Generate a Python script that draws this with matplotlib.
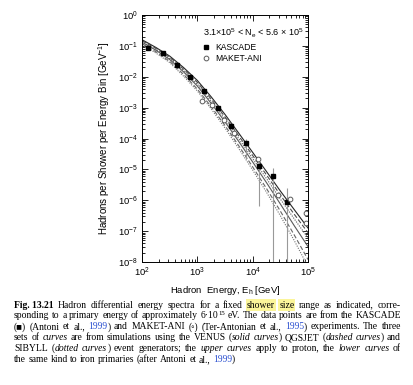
import matplotlib
matplotlib.use("Agg")
import matplotlib.pyplot as plt
import numpy as np
from matplotlib.lines import Line2D
from matplotlib.transforms import IdentityTransform

# KASCADE data points (GeV, per GeV)
kas_E = [130, 237, 424, 738, 1340, 2340, 4070, 7690, 13060, 23070, 41880]
kas_y = [8.7e-2, 6.0e-2, 2.4e-2, 9.8e-3, 3.5e-3, 9.5e-4, 2.55e-4, 7.4e-5,
         1.25e-5, 6.0e-6, 8.7e-7]
# error bars (lower, upper) for the last points
err_E = [7690, 13060, 23070, 41880]
err_lo = [2.2e-5, 6.3e-7, 1e-9, 1e-9]
err_hi = [1.0e-4, 2.0e-5, 1.1e-5, 2.5e-6]

# MAKET-ANI data points
mak_E = [1230, 1860, 3090, 4680, 12600, 28200, 47900, 93300, 93300]
mak_y = [1.7e-3, 1.23e-3, 4.0e-4, 1.55e-4, 2.14e-5, 1.45e-6, 1.12e-6,
         3.8e-7, 1.8e-7]

# simulated curves, log10(E) grid and log10(y)
curve_logE = [2, 2.25, 2.5, 2.75, 3, 3.25, 3.5, 3.75, 4, 4.25, 4.5, 4.75, 5]
p_venus = [-0.80, -1.05, -1.33, -1.70, -2.12, -2.65, -3.22, -3.83, -4.45,
           -5.07, -5.70, -6.30, -6.90]
p_qgs = [-0.83, -1.08, -1.37, -1.75, -2.18, -2.72, -3.30, -3.92, -4.55,
         -5.18, -5.83, -6.45, -7.05]
p_sib = [-0.86, -1.12, -1.41, -1.80, -2.24, -2.79, -3.38, -4.01, -4.65,
         -5.30, -5.96, -6.60, -7.22]
fe_venus = [-0.88, -1.14, -1.44, -1.84, -2.30, -2.86, -3.46, -4.10, -4.76,
            -5.43, -6.12, -6.82, -7.50]
fe_qgs = [-0.93, -1.19, -1.50, -1.92, -2.40, -2.97, -3.58, -4.24, -4.92,
          -5.62, -6.35, -7.12, -7.92]
fe_sib = [-0.97, -1.23, -1.54, -1.98, -2.46, -3.04, -3.66, -4.33, -5.02,
          -5.74, -6.50, -7.30, -8.15]

plt.rcParams['font.family'] = ['Liberation Sans', 'DejaVu Sans']
plt.rcParams['mathtext.fontset'] = 'custom'
plt.rcParams['mathtext.rm'] = 'Liberation Sans'
plt.rcParams['mathtext.it'] = 'Liberation Sans:italic'

fig = plt.figure(figsize=(4.14, 3.85), dpi=100)
ax = fig.add_axes([142 / 414, 1 - 262 / 385, 166 / 414, 247 / 385])

E = 10 ** np.array(curve_logE)
styles = [(p_venus, '-', '0.15'), (fe_venus, '-', '0.35'),
          (p_qgs, (0, (4, 2)), '0.3'), (fe_qgs, (0, (4, 2)), '0.4'),
          (p_sib, (0, (1, 1.2)), '0.35'), (fe_sib, (0, (1, 1.2)), '0.45')]
for ys, ls, c in styles:
    ax.plot(E, 10 ** np.array(ys), ls=ls, color=c, lw=0.8)

ax.vlines(err_E, err_lo, err_hi, color='0.6', lw=0.8)
ax.plot(kas_E, kas_y, 's', color='black', ms=3.4)
ax.plot(mak_E, mak_y, 'o', mfc='white', mec='0.35', mew=0.7, ms=3.4)

ax.set_xscale('log')
ax.set_yscale('log')
ax.set_xlim(1e2, 1e5)
ax.set_ylim(1e-8, 1e0)
ax.set_yticks([10.0 ** k for k in range(-8, 1)])
ax.yaxis.set_minor_locator(matplotlib.ticker.LogLocator(base=10, subs=np.arange(2, 10), numticks=20))
ax.tick_params(which='both', direction='in', top=True, right=True,
               labelsize=6.8, pad=3, width=0.6)
ax.tick_params(which='major', length=4)
ax.tick_params(which='minor', length=2)
for s in ax.spines.values():
    s.set_linewidth(0.7)

ax.set_xlabel('Hadron  Energy, E$_\\mathregular{h}$ [GeV]', fontsize=6.8, labelpad=3)
ax.set_ylabel('Hadrons per Shower per Energy Bin [GeV$^{-1}$]', fontsize=7.0, labelpad=4)

handles = [Line2D([], [], ls='none', marker='s', color='black', ms=3.4),
           Line2D([], [], ls='none', marker='o', mfc='white', mec='0.35', mew=0.7, ms=3.4)]
leg = ax.legend(handles, ['KASCADE', 'MAKET-ANI'], loc='upper left',
                bbox_to_anchor=(0.33, 0.975), frameon=False, fontsize=6.2,
                title='3.1$\\times$10$^5$ < N$_\\mathregular{e}$ < 5.6 $\\times$ 10$^5$',
                title_fontsize=6.5, handlelength=0.8, handletextpad=0.6,
                labelspacing=0.25, borderpad=0.2)
leg._legend_box.align = 'left'

# caption below the chart
caption = [
    [("Fig.\u00a013.21", 'b'), (" Hadron differential energy spectra for a fixed ", 'r'),
     ("shower", 'hl'), (" ", 'r'), ("size", 'hl'), (" range as indicated, corre-", 'r')],
    [("sponding to a primary energy of approximately 6\u00b710", 'r'), ("15", 'sup'),
     (" eV. The data points are from the KASCADE", 'r')],
    [("(\u25a0) (Antoni et al., ", 'r'), ("1999", 'c'), (") and MAKET-ANI (\u25e6) (Ter-Antonian et al., ", 'r'),
     ("1995", 'c'), (") experiments. The three", 'r')],
    [("sets of ", 'r'), ("curves", 'i'), (" are from simulations using the VENUS (", 'r'),
     ("solid curves", 'i'), (") QGSJET (", 'r'), ("dashed curves", 'i'), (") and", 'r')],
    [("SIBYLL (", 'r'), ("dotted curves", 'i'), (") event generators; the ", 'r'),
     ("upper curves", 'i'), (" apply to proton, the ", 'r'), ("lower curves", 'i'), (" of", 'r')],
    [("the same kind to iron primaries (after Antoni et al., ", 'r'), ("1999", 'c'), (")", 'r')],
]
cap_y = [307.5, 318.4, 329.3, 340.2, 351.1, 362.0]
cap_left, cap_right = 14, 401
fsize = 6.9


def words_of(runs):
    words = [[]]
    for text, st in runs:
        parts = text.split(' ')
        for k, p in enumerate(parts):
            if k > 0:
                words.append([])
            if p:
                words[-1].append((p, st))
    return [w for w in words if w]


renderer = fig.canvas.get_renderer()
H = 385


def make_text(s, st):
    kw = dict(fontsize=fsize, family=['Liberation Serif', 'DejaVu Serif'],
              va='baseline', ha='left', transform=IdentityTransform())
    if st == 'b':
        kw['fontweight'] = 'bold'
    elif st == 'i':
        kw['fontstyle'] = 'italic'
    elif st == 'c':
        kw['color'] = '#2a4fd0'
    elif st == 'hl':
        kw['bbox'] = dict(boxstyle='square,pad=0.12', fc='#fbf59a', ec='none')
    elif st == 'sup':
        kw['fontsize'] = fsize * 0.7
    t = fig.text(0, 0, s, **kw)
    w = t.get_window_extent(renderer).width
    return t, w


space_w = fsize * 100 / 72 * 0.25
for li, runs in enumerate(caption):
    words = words_of(runs)
    built = []
    for w in words:
        items = [make_text(s, st) + (st,) for s, st in w]
        built.append(items)
    widths = [sum(it[1] for it in items) for items in built]
    natural = sum(widths) + space_w * (len(built) - 1)
    gap = space_w
    if li < len(caption) - 1 and len(built) > 1:
        gap = space_w + (cap_right - cap_left - natural) / (len(built) - 1)
        gap = max(gap, 0.5 * space_w)
    x = cap_left
    yb = H - cap_y[li]
    for items, wsum in zip(built, widths):
        xx = x
        for t, w, st in items:
            t.set_position((xx, yb + (3.6 if st == 'sup' else 0)))
            xx += w
        x += wsum + gap

fig.savefig('out.png', dpi=100)
